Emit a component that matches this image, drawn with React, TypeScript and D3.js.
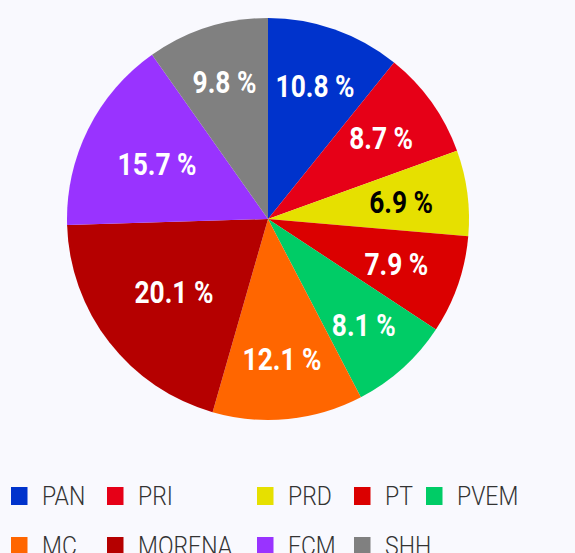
import React, { useEffect } from 'react';
import * as d3 from 'd3';

const parties = ['PAN', 'PRI', 'PRD', 'PT', 'PVEM', 'MC', 'MORENA', 'FCM', 'SHH'];
const shares = [10.8, 8.7, 6.9, 7.9, 8.1, 12.1, 20.1, 15.7, 9.8];
const colors = ['#0033cc', '#e60017', '#e6e000', '#db0000', '#00cc66', '#ff6600', '#b50000', '#9933ff', '#808080'];
const labelColors = ['#fff', '#fff', '#000', '#fff', '#fff', '#fff', '#fff', '#fff', '#fff'];

// legend layout: two rows, fixed columns
const legendRows = [
  ['PAN', 'PRI', 'PRD', 'PT', 'PVEM'],
  ['MC', 'MORENA', 'FCM', 'SHH'],
];
const legendCols = [11, 107, 257, 354, 426];

const W = 575;
const H = 553;
const cx = 268;
const cy = 219;
const R = 201;

export default function App() {
  useEffect(() => {
    document.body.style.margin = '0';
  }, []);

  const total = d3.sum(shares);
  const pie = d3.pie<number>().sort(null).value(d => d);
  const arcs = pie(shares);
  const arc = d3.arc<d3.PieArcDatum<number>>().innerRadius(0).outerRadius(R);

  // thin slices push the label outwards, more so when the slice points up/down
  // (the text then lies across the wedge)
  const labelPos = (d: d3.PieArcDatum<number>) => {
    const a = (d.startAngle + d.endAngle) / 2;
    const f = d.value / total;
    const r = R * (0.718 - 0.895 * f + 0.088 * Math.abs(Math.cos(a)));
    return [r * Math.sin(a), -r * Math.cos(a)];
  };

  return (
    <svg width={W} height={H} style={{ display: 'block' }}>
      <rect width={W} height={H} fill="#f9f9fe" />
      <g transform={`translate(${cx},${cy})`}>
        {arcs.map((d, i) => (
          <path key={parties[i]} d={arc(d) || ''} fill={colors[i]} />
        ))}
        {arcs.map((d, i) => {
          const [x, y] = labelPos(d);
          return (
            <text
              key={'l' + parties[i]}
              transform={`translate(${x},${y}) scale(0.85,1)`}
              dy="0.36em"
              textAnchor="middle"
              fill={labelColors[i]}
              fontFamily="Roboto, sans-serif"
              fontWeight="bold"
              fontSize={31}
            >
              {`${shares[i].toFixed(1)} %`}
            </text>
          );
        })}
      </g>
      <g>
        {legendRows.map((row, ri) =>
          row.map((name, ci) => {
            const idx = parties.indexOf(name);
            const x = legendCols[ci];
            const y = 487 + ri * 50;
            return (
              <g key={name} transform={`translate(${x},${y})`}>
                <rect width={16.5} height={18} fill={colors[idx]} />
                <text
                  transform="translate(31,18) scale(0.92,1)"
                  fill="#333"
                  fontFamily="Roboto, sans-serif"
                  fontWeight={300}
                  fontSize={25}
                >
                  {name}
                </text>
              </g>
            );
          })
        )}
      </g>
    </svg>
  );
}
